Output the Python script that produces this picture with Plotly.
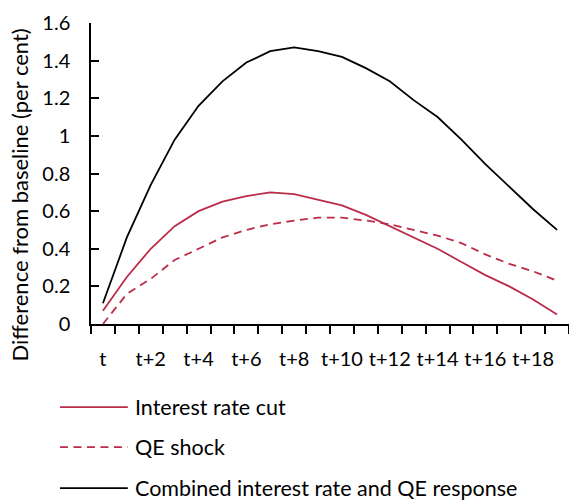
import plotly.graph_objects as go

# periods t .. t+19
periods = ["t"] + ["t+" + str(i) for i in range(1, 20)]

# difference from baseline (per cent)
rate_cut = [0.07, 0.25, 0.40, 0.52, 0.60, 0.65, 0.68, 0.70, 0.69, 0.66,
            0.63, 0.58, 0.52, 0.46, 0.40, 0.33, 0.26, 0.20, 0.13, 0.05]
qe_shock = [0.00, 0.16, 0.24, 0.34, 0.40, 0.46, 0.50, 0.53, 0.55, 0.565,
            0.565, 0.55, 0.53, 0.50, 0.47, 0.43, 0.37, 0.32, 0.28, 0.23]
combined = [0.11, 0.46, 0.74, 0.98, 1.16, 1.29, 1.39, 1.45, 1.47, 1.45,
            1.42, 1.36, 1.29, 1.19, 1.10, 0.98, 0.85, 0.73, 0.61, 0.50]

series_names = ["Interest rate cut", "QE shock",
                "Combined interest rate and QE response"]

RED = "#bb2c48"
FONT = "Lato"
DASH = "8px,5.5px"

x_idx = list(range(len(periods)))

fig = go.Figure()
fig.add_trace(go.Scatter(x=x_idx, y=rate_cut, mode="lines", name=series_names[0],
                         line=dict(color=RED, width=1.8)))
fig.add_trace(go.Scatter(x=x_idx, y=qe_shock, mode="lines", name=series_names[1],
                         line=dict(color=RED, width=1.8, dash=DASH)))
fig.add_trace(go.Scatter(x=x_idx, y=combined, mode="lines", name=series_names[2],
                         line=dict(color="black", width=1.8)))

fig.update_layout(
    width=569, height=501,
    margin=dict(l=91, r=0, t=23, b=177, autoexpand=False),
    plot_bgcolor="white", paper_bgcolor="white",
    font=dict(family=FONT, size=20, color="black"),
    showlegend=False,
)

fig.update_xaxes(
    range=[-0.5, len(periods) - 0.5],
    tickvals=x_idx[::2], ticktext=periods[::2],
    ticks="", showgrid=False, zeroline=False, automargin=False,
    showline=True, linecolor="black", linewidth=1.5,
    ticklabelstandoff=16,
    minor=dict(tickvals=[i - 0.5 for i in range(len(periods) + 1)],
               ticks="outside", ticklen=8, tickcolor="black", tickwidth=1.5,
               showgrid=False),
)
fig.update_yaxes(
    range=[0, 1.6], tickvals=[0, 0.2, 0.4, 0.6, 0.8, 1, 1.2, 1.4, 1.6],
    ticktext=["0", "0.2", "0.4", "0.6", "0.8", "1", "1.2", "1.4", "1.6"],
    ticks="inside", ticklen=8, tickcolor="black", tickwidth=1.5,
    showgrid=False, zeroline=False, automargin=False,
    showline=True, linecolor="black", linewidth=1.5,
    ticklabelstandoff=15,
)

# y title as an annotation: in the original it sits lower than the plot centre
fig.add_annotation(text="Difference from baseline (per cent)",
                   xref="paper", yref="paper", x=-0.1506, y=0.427,
                   xanchor="center", yanchor="middle", textangle=-90,
                   showarrow=False, font=dict(size=22))

# legend below the plot, drawn by hand to get the long line samples
legend_y = [-0.276, -0.409, -0.545]
legend_dash = ["solid", DASH, "solid"]
legend_color = [RED, RED, "black"]
for name, yy, dash, col in zip(series_names, legend_y, legend_dash, legend_color):
    fig.add_shape(type="line", xref="paper", yref="paper",
                  x0=-0.065, x1=0.077, y0=yy, y1=yy,
                  line=dict(color=col, width=1.8, dash=dash))
    fig.add_annotation(text=name, xref="paper", yref="paper",
                       x=0.088, y=yy, xanchor="left", yanchor="middle",
                       showarrow=False, font=dict(size=21.5))

# drop the default page margin so the figure sits at the top-left corner
fig.write_html("out.html", config={"displayModeBar": False},
               post_script="document.body.style.margin='0';")
